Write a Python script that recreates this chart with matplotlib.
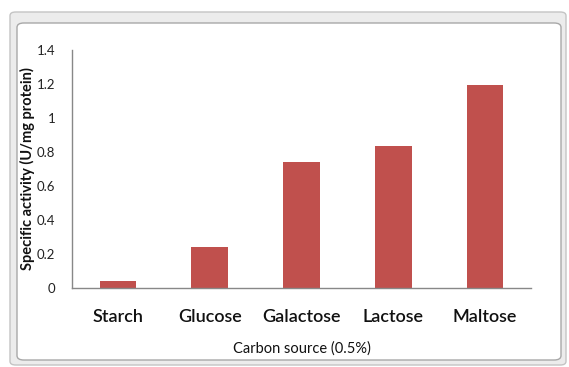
import matplotlib
matplotlib.use('Agg')
import matplotlib.pyplot as plt
from matplotlib.patches import FancyBboxPatch

# carbon source screen, specific activity per mg protein
categories = ['Starch', 'Glucose', 'Galactose', 'Lactose', 'Maltose']
activity = [0.04, 0.24, 0.74, 0.835, 1.195]
yticks = [0, 0.2, 0.4, 0.6, 0.8, 1, 1.2, 1.4]
ytick_labels = ['0', '0.2', '0.4', '0.6', '0.8', '1', '1.2', '1.4']

W, H = 569, 367
plt.rcParams['font.family'] = ['Lato', 'DejaVu Sans']

fig = plt.figure(figsize=(W / 100, H / 100), dpi=100)
fig.patch.set_facecolor('white')


def px(x0, y0, x1, y1):
    # pixel box (top-left origin) -> figure fraction rect
    return x0 / W, 1 - y1 / H, (x1 - x0) / W, (y1 - y0) / H


# window-like frame around the chart
x, y, w, h = px(10, 12, 566, 365)
fig.patches.append(FancyBboxPatch((x, y), w, h, boxstyle='round,pad=0,rounding_size=0.01',
                                  transform=fig.transFigure, facecolor='#ececec',
                                  edgecolor='#c4c4c4', linewidth=1.0, zorder=-2))
x, y, w, h = px(17, 23, 561, 360)
fig.patches.append(FancyBboxPatch((x, y), w, h, boxstyle='round,pad=0,rounding_size=0.012',
                                  transform=fig.transFigure, facecolor='white',
                                  edgecolor='#a8a8a8', linewidth=1.0, zorder=-1))

ax = fig.add_axes(px(72, 50, 531, 288))
ax.set_zorder(2)
ax.set_facecolor('none')

ax.bar(range(len(categories)), activity, width=0.4, color='#C0504D')

ax.set_xlim(-0.5, len(categories) - 0.5)
ax.set_ylim(0, 1.4)
ax.set_yticks(yticks)
ax.set_yticklabels(ytick_labels, fontsize=9.5, color='#222222')
ax.set_xticks(range(len(categories)))
ax.set_xticklabels(categories, fontsize=13, fontweight='semibold', color='#111111')
ax.tick_params(axis='y', length=0, pad=12)
ax.tick_params(axis='x', length=0, pad=15)

for s in ['top', 'right']:
    ax.spines[s].set_visible(False)
for s in ['left', 'bottom']:
    ax.spines[s].set_color('#888888')
    ax.spines[s].set_linewidth(1.0)

ax.set_xlabel('Carbon source (0.5%)', fontsize=10.5, color='#111111')
ax.xaxis.set_label_coords(0.5, -0.225)
ax.set_ylabel('Specific activity (U/mg protein)', fontsize=10.5, fontweight='bold',
              color='#111111')
ax.yaxis.set_label_coords(-0.08, 0.5)

fig.savefig('out.png', dpi=100)
